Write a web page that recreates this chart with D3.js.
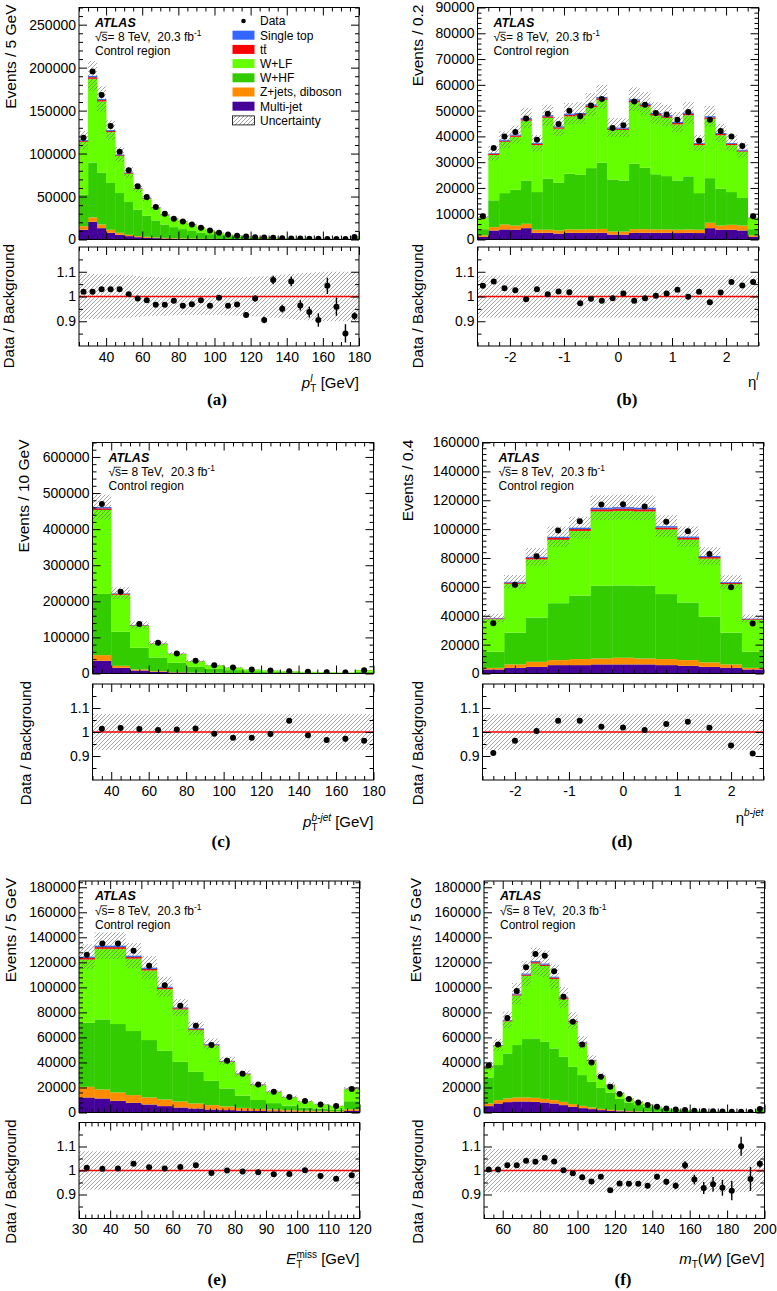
<!DOCTYPE html>
<html>
<head>
<meta charset="utf-8">
<script src="https://cdn.jsdelivr.net/npm/d3@7"></script>
<style>
  body { margin: 0; background: #fff; }
  svg { display: block; }
  text { font-family: "Liberation Sans", Arial, Helvetica, sans-serif; fill: #000; }
</style>
</head>
<body>
<svg id="chart" width="777" height="1291"></svg>
<script>
// stack order bottom -> top
const seriesKeys = ['multi', 'zjets', 'whf', 'wlf', 'ttbar', 'stop'];
const seriesColors = {
  multi: '#440099', zjets: '#ff8c00', whf: '#33cc00',
  wlf: '#66ff00', ttbar: '#ff0000', stop: '#3366ff',
};

// (a) lepton pT, 5 GeV bins from 25
const aData = [118400, 195500, 168200, 132000, 102000, 80600, 61900, 49500, 37800, 30000, 24100, 21000, 17500, 13600, 10500, 7800, 5800, 4300, 3500, 2700, 2300, 1900, 1600, 1300, 1100, 900, 800, 700, 600, 500, 3000];
const aMulti = [11300, 20600, 13200, 7800, 5500, 3900, 2700, 1900, 1600, 1200, 900, 700, 600, 500, 400, 300, 250, 200, 150, 120, 100, 80, 70, 60, 50, 40, 35, 30, 25, 20, 100];
const aZjets = [4200, 5100, 4300, 3500, 2300, 1600, 1200, 1200, 700, 700, 600, 500, 400, 300, 300, 250, 200, 150, 150, 130, 100, 80, 70, 60, 50, 40, 35, 30, 25, 25, 100];
const aWhf = [36700, 63900, 60400, 54500, 46300, 38100, 30800, 24500, 19900, 15600, 12900, 10900, 9100, 7000, 5500, 4550, 3450, 2750, 2000, 1650, 1300, 1040, 860, 680, 550, 470, 380, 320, 270, 225, 1700];
const aWlf = [61500, 97400, 82700, 59200, 43000, 32900, 24200, 19800, 14900, 11600, 9300, 8800, 7200, 5600, 4400, 2700, 2000, 1300, 1400, 750, 760, 760, 520, 480, 530, 380, 340, 310, 300, 310, 1340];
const aTtbar = [1100, 1900, 1600, 1300, 1000, 800, 600, 500, 400, 300, 250, 210, 180, 140, 110, 80, 60, 45, 40, 30, 25, 20, 16, 13, 12, 10, 8, 7, 6, 6, 35];
const aStop = [900, 1500, 1300, 1000, 800, 600, 480, 390, 300, 240, 190, 170, 140, 110, 90, 65, 50, 36, 30, 22, 18, 16, 13, 11, 10, 8, 6, 6, 5, 5, 28];
const aRatio = [1.019, 1.019, 1.029, 1.029, 1.029, 1.009, 0.992, 0.985, 0.967, 0.967, 0.983, 0.963, 0.969, 0.985, 0.963, 0.995, 0.963, 0.968, 0.925, 0.992, 0.905, 1.067, 0.951, 1.061, 0.964, 0.937, 0.905, 1.043, 0.959, 0.851, 0.921];
const aRatioErr = [0.003, 0.003, 0.003, 0.003, 0.003, 0.003, 0.004, 0.004, 0.005, 0.005, 0.005, 0.006, 0.006, 0.007, 0.008, 0.008, 0.009, 0.01, 0.011, 0.012, 0.013, 0.017, 0.016, 0.02, 0.021, 0.022, 0.027, 0.033, 0.037, 0.037, 0.015];
const aUnc = [0.092, 0.091, 0.09, 0.089, 0.088, 0.086, 0.083, 0.08, 0.078, 0.077, 0.076, 0.075, 0.075, 0.075, 0.075, 0.075, 0.076, 0.077, 0.078, 0.08, 0.082, 0.085, 0.088, 0.091, 0.094, 0.096, 0.098, 0.1, 0.1, 0.1, 0.1];

// (b) lepton eta, 0.2 bins from -2.6
const bData = [9000, 35500, 40000, 41700, 46900, 38700, 48800, 44800, 49900, 47800, 52000, 54500, 43300, 44300, 53500, 52300, 49100, 48500, 46500, 49500, 38300, 46500, 42100, 40000, 36300, 9000];
const bMulti = [1000, 3500, 3900, 3800, 4400, 2600, 2600, 2300, 2600, 2600, 2600, 2600, 1900, 1900, 2600, 2600, 2600, 2600, 2500, 2600, 2500, 4400, 3800, 3800, 3500, 1000];
const bZjets = [600, 1300, 1900, 1600, 1700, 1200, 1200, 1200, 1300, 1300, 1400, 1500, 1200, 1200, 1400, 1400, 1300, 1300, 1300, 1300, 1300, 2100, 1600, 1900, 1900, 600];
const bWhf = [2400, 10400, 12200, 13900, 16800, 14600, 19800, 18500, 21600, 21200, 23700, 25700, 20200, 19800, 25400, 23800, 21400, 20700, 19100, 20600, 14200, 17300, 14300, 12700, 10700, 2400];
const bWlf = [4320, 17600, 19900, 20550, 23230, 18210, 23610, 21000, 22290, 23010, 23620, 24360, 19200, 19600, 23880, 23820, 22790, 22610, 21760, 23690, 18620, 23010, 20750, 18220, 17990, 4320];
const bTtbar = [100, 400, 450, 480, 550, 450, 560, 510, 570, 560, 610, 640, 510, 510, 630, 610, 570, 560, 530, 570, 440, 560, 480, 440, 400, 100];
const bStop = [80, 300, 350, 370, 420, 340, 430, 390, 440, 430, 470, 500, 390, 390, 490, 470, 440, 430, 410, 440, 340, 430, 370, 340, 310, 80];
const bRatio = [1.043, 1.061, 1.033, 1.025, 0.989, 1.029, 1.009, 1.02, 1.017, 0.973, 0.991, 0.983, 0.993, 1.012, 0.983, 0.993, 1.003, 1.012, 1.027, 0.999, 1.019, 0.977, 1.016, 1.059, 1.044, 1.059];
const bRatioErr = [0.006, 0.004, 0.004, 0.004, 0.004, 0.004, 0.004, 0.004, 0.004, 0.004, 0.004, 0.004, 0.004, 0.004, 0.004, 0.004, 0.004, 0.004, 0.004, 0.004, 0.004, 0.004, 0.004, 0.004, 0.004, 0.006];
const bUnc = [0.085, 0.085, 0.085, 0.085, 0.085, 0.085, 0.085, 0.085, 0.085, 0.085, 0.085, 0.085, 0.085, 0.085, 0.085, 0.085, 0.085, 0.085, 0.085, 0.085, 0.085, 0.085, 0.085, 0.085, 0.085, 0.085];

// (c) b-jet pT, 10 GeV bins from 30
const cData = [469400, 226800, 137000, 85200, 55600, 35200, 23100, 16700, 11100, 8300, 6500, 4600, 3700, 2800, 9300];
const cMulti = [35200, 15700, 8300, 4600, 2800, 1900, 1200, 800, 550, 400, 300, 200, 150, 120, 300];
const cZjets = [15700, 5600, 2800, 1900, 900, 600, 500, 400, 250, 200, 150, 150, 100, 80, 300];
const cWhf = [169500, 94400, 60200, 37900, 25900, 16000, 11300, 8100, 5700, 4000, 3250, 2450, 1650, 1400, 4400];
const cWlf = [232700, 102600, 60700, 37450, 24420, 15580, 9790, 7400, 4600, 3655, 2390, 1820, 1835, 1248, 4435];
const cTtbar = [4500, 2200, 1300, 800, 550, 350, 230, 170, 110, 80, 60, 45, 35, 30, 90];
const cStop = [3500, 1700, 1000, 650, 430, 270, 180, 130, 90, 65, 50, 35, 30, 22, 75];
const cRatio = [1.014, 1.017, 1.013, 1.008, 1.01, 1.015, 0.993, 0.976, 0.976, 0.992, 1.047, 0.986, 0.967, 0.972, 0.964];
const cRatioErr = [0.002, 0.002, 0.003, 0.003, 0.004, 0.004, 0.005, 0.005, 0.006, 0.007, 0.008, 0.009, 0.012, 0.012, 0.007];
const cUnc = [0.075, 0.075, 0.075, 0.075, 0.075, 0.075, 0.075, 0.075, 0.075, 0.075, 0.075, 0.075, 0.075, 0.075, 0.075];

// (d) b-jet eta, 0.4 bins from -2.6
const dData = [34800, 61500, 81200, 99000, 105500, 117100, 117300, 115700, 105100, 98600, 82800, 59800, 34600];
const dMulti = [2800, 3900, 4600, 5800, 5800, 6300, 6300, 6300, 5800, 5300, 4600, 3900, 2800];
const dZjets = [1100, 2400, 3500, 3500, 4200, 4100, 4600, 4100, 4200, 4000, 3100, 2400, 1100];
const dWhf = [11200, 22000, 30600, 39400, 44000, 50400, 50100, 50400, 45000, 39900, 31700, 22000, 11200];
const dWlf = [22550, 33830, 40320, 43920, 44790, 51470, 51660, 51470, 44750, 43520, 40210, 33610, 22060];
const dTtbar = [500, 800, 1050, 1230, 1300, 1500, 1500, 1500, 1330, 1230, 1060, 820, 500];
const dStop = [350, 570, 730, 850, 910, 1030, 1040, 1030, 920, 850, 730, 570, 340];
const dRatio = [0.912, 0.964, 1.004, 1.047, 1.047, 1.022, 1.019, 1.008, 1.033, 1.043, 1.018, 0.944, 0.91];
const dRatioErr = [0.004, 0.003, 0.003, 0.003, 0.003, 0.003, 0.003, 0.003, 0.003, 0.003, 0.003, 0.003, 0.004];
const dUnc = [0.075, 0.075, 0.075, 0.075, 0.075, 0.075, 0.075, 0.075, 0.075, 0.075, 0.075, 0.075, 0.075];

// (e) missing ET, 5 GeV bins from 30
const eData = [126100, 135000, 135000, 129300, 117300, 101600, 85300, 69300, 53900, 41300, 30900, 22400, 16500, 12300, 9100, 6400, 5100, 18700];
const eMulti = [12000, 11200, 9300, 7700, 6400, 5100, 4000, 3200, 2400, 1900, 1500, 1200, 1000, 800, 600, 500, 400, 1200];
const eZjets = [8500, 7200, 6700, 6200, 5600, 5300, 4800, 4000, 3500, 2900, 2200, 1700, 1400, 1000, 800, 600, 500, 1300];
const eWhf = [51200, 56000, 54700, 51200, 45900, 38900, 31700, 25300, 19400, 14400, 9800, 7100, 5100, 3700, 2600, 1900, 1400, 6500];
const eWlf = [50500, 56400, 60100, 57900, 55650, 49250, 41900, 33370, 28330, 21300, 17080, 12040, 8860, 6750, 4920, 3465, 2895, 9710];
const eTtbar = [1300, 1400, 1400, 1300, 1200, 1100, 900, 750, 600, 450, 350, 260, 190, 140, 100, 75, 60, 220];
const eStop = [1000, 1100, 1100, 1000, 950, 850, 700, 580, 470, 350, 270, 200, 150, 110, 80, 60, 45, 170];
const eRatio = [1.011, 1.007, 1.008, 1.028, 1.014, 1.008, 1.015, 1.022, 0.99, 1.0, 0.996, 0.993, 0.984, 0.985, 1.001, 0.977, 0.966, 0.98];
const eRatioErr = [0.003, 0.003, 0.003, 0.003, 0.003, 0.003, 0.003, 0.003, 0.003, 0.003, 0.003, 0.004, 0.004, 0.005, 0.005, 0.006, 0.006, 0.004];
const eUnc = [0.08, 0.08, 0.08, 0.08, 0.08, 0.08, 0.08, 0.08, 0.08, 0.08, 0.08, 0.08, 0.08, 0.08, 0.08, 0.08, 0.08, 0.08];

// (f) transverse W mass, 5 GeV bins from 50
const fData = [37600, 54400, 75500, 97100, 116000, 126700, 125300, 112800, 92500, 72500, 54400, 40000, 28500, 20500, 14700, 10700, 8000, 5900, 4500, 3200, 2400, 1900, 1400, 1100, 900, 700, 600, 500, 450, 2700];
const fMulti = [5100, 7200, 8300, 8800, 8800, 8500, 8000, 7200, 5900, 4500, 3500, 2700, 1900, 1300, 1000, 800, 600, 450, 350, 280, 220, 170, 130, 100, 80, 60, 50, 40, 35, 200];
const fZjets = [2100, 2700, 2900, 3200, 3200, 3200, 2900, 2700, 2600, 2200, 1800, 1300, 1000, 800, 600, 400, 300, 250, 200, 150, 120, 100, 80, 70, 60, 50, 40, 30, 25, 150];
const fWhf = [20800, 28000, 36000, 41900, 46700, 47500, 45600, 41300, 36000, 29800, 24600, 20500, 16800, 13900, 9400, 6800, 5100, 3800, 2850, 2070, 1560, 1130, 890, 730, 560, 440, 390, 280, 290, 1450];
const fWlf = [8850, 15270, 25630, 39590, 50520, 59850, 60570, 55540, 46010, 35790, 25160, 16790, 9090, 5910, 4230, 3100, 2350, 1690, 1117, 840, 654, 466, 323, 278, 233, 186, 158, 91, 111, 752];
const fTtbar = [300, 450, 650, 850, 1000, 1100, 1100, 1000, 850, 700, 550, 420, 300, 230, 160, 120, 90, 65, 50, 36, 28, 20, 16, 13, 10, 8, 7, 5, 5, 28];
const fStop = [250, 380, 520, 660, 780, 850, 830, 760, 640, 510, 390, 290, 210, 160, 110, 80, 60, 45, 33, 24, 18, 14, 11, 9, 7, 6, 5, 4, 4, 20];
const fRatio = [1.004, 1.004, 1.022, 1.022, 1.041, 1.036, 1.053, 1.038, 1.001, 0.989, 0.972, 0.954, 0.974, 0.918, 0.946, 0.945, 0.945, 0.936, 0.974, 0.953, 0.936, 1.022, 0.962, 0.927, 0.943, 0.928, 0.916, 1.101, 0.965, 1.028];
const fRatioErr = [0.003, 0.003, 0.003, 0.003, 0.003, 0.003, 0.003, 0.003, 0.003, 0.004, 0.004, 0.005, 0.005, 0.006, 0.007, 0.008, 0.009, 0.01, 0.012, 0.012, 0.014, 0.017, 0.02, 0.025, 0.03, 0.033, 0.04, 0.04, 0.05, 0.015];
const fUnc = [0.09, 0.09, 0.09, 0.09, 0.09, 0.09, 0.09, 0.09, 0.09, 0.09, 0.09, 0.09, 0.09, 0.09, 0.09, 0.09, 0.09, 0.09, 0.09, 0.09, 0.09, 0.09, 0.09, 0.09, 0.09, 0.09, 0.09, 0.09, 0.09, 0.09];

const legendRows = ['Data', 'Single top', 'tt', 'W+LF', 'W+HF', 'Z+jets, diboson', 'Multi-jet', 'Uncertainty'];
const legendKeys = ['data', 'stop', 'ttbar', 'wlf', 'whf', 'zjets', 'multi', 'unc'];

// panel layout (pixel boxes and axis settings)
const panels = [
  {
    id: 'a', xDomain: [25, 180], binWidth: 5, yMax: 270000, yStep: 50000, yMinor: 10000,
    xMajor: [40, 180, 20], xMinor: [25, 180, 5], yTitle: 'Events / 5 GeV',
    series: [aMulti, aZjets, aWhf, aWlf, aTtbar, aStop], data: aData,
    ratio: aRatio, ratioErr: aRatioErr, unc: aUnc,
    box: {left: 79, right: 359, top: 7.5, bottom: 239.5, rTop: 247, rBottom: 346},
    yTitleX: 16, rTitleX: 14, xTitleY: 387.5, labelX: 217, labelY: 405, legend: true,
    xTitle: [{t: 'p', it: 1}, {t: 'T', sz: 10, dy: 4}, {t: 'l', it: 1, sz: 10, dx: -6, dy: -10}, {t: ' [GeV]', dx: 4, dy: 6}],
  },
  {
    id: 'b', xDomain: [-2.6, 2.6], binWidth: 0.2, yMax: 90000, yStep: 10000, yMinor: 2000,
    xMajor: [-2, 2, 1], xMinor: [-2.6, 2.6, 0.2], yTitle: 'Events / 0.2',
    series: [bMulti, bZjets, bWhf, bWlf, bTtbar, bStop], data: bData,
    ratio: bRatio, ratioErr: bRatioErr, unc: bUnc,
    box: {left: 477.5, right: 758.5, top: 7.5, bottom: 239.5, rTop: 247, rBottom: 346},
    yTitleX: 423, rTitleX: 423, xTitleY: 386.5, labelX: 627, labelY: 405,
    xTitle: [{t: '\u03b7'}, {t: 'l', it: 1, sz: 10, dy: -7}],
  },
  {
    id: 'c', xDomain: [30, 180], binWidth: 10, yMax: 640000, yStep: 100000, yMinor: 20000,
    xMajor: [40, 180, 20], xMinor: [30, 180, 5], yTitle: 'Events / 10 GeV',
    series: [cMulti, cZjets, cWhf, cWlf, cTtbar, cStop], data: cData,
    ratio: cRatio, ratioErr: cRatioErr, unc: cUnc,
    box: {left: 92.5, right: 373.5, top: 442.5, bottom: 673.5, rTop: 684, rBottom: 780},
    yTitleX: 29, rTitleX: 31, xTitleY: 826.5, labelX: 221, labelY: 847,
    xTitle: [{t: 'p', it: 1}, {t: 'T', sz: 10, dy: 4}, {t: 'b-jet', it: 1, sz: 10, dx: -6, dy: -10}, {t: ' [GeV]', dy: 6}],
  },
  {
    id: 'd', xDomain: [-2.6, 2.6], binWidth: 0.4, yMax: 160000, yStep: 20000, yMinor: 4000,
    xMajor: [-2, 2, 1], xMinor: [-2.6, 2.6, 0.2], yTitle: 'Events / 0.4',
    series: [dMulti, dZjets, dWhf, dWlf, dTtbar, dStop], data: dData,
    ratio: dRatio, ratioErr: dRatioErr, unc: dUnc,
    box: {left: 482.5, right: 763.5, top: 442.5, bottom: 673.5, rTop: 684, rBottom: 780},
    yTitleX: 413, rTitleX: 423, xTitleY: 823, labelX: 622, labelY: 847,
    xTitle: [{t: '\u03b7'}, {t: 'b-jet', it: 1, sz: 10, dy: -7}],
  },
  {
    id: 'e', xDomain: [30, 120], binWidth: 5, yMax: 185000, yStep: 20000, yMinor: 4000,
    xMajor: [30, 120, 10], xMinor: [30, 120, 2], yTitle: 'Events / 5 GeV',
    series: [eMulti, eZjets, eWhf, eWlf, eTtbar, eStop], data: eData,
    ratio: eRatio, ratioErr: eRatioErr, unc: eUnc,
    box: {left: 79, right: 359.5, top: 881, bottom: 1112.5, rTop: 1122.5, rBottom: 1218.5},
    yTitleX: 16, rTitleX: 16, xTitleY: 1264, labelX: 217, labelY: 1285,
    xTitle: [{t: 'E', it: 1}, {t: 'T', sz: 10, dy: 4}, {t: 'miss', sz: 10, dx: -6, dy: -10}, {t: ' [GeV]', dy: 6}],
  },
  {
    id: 'f', xDomain: [50, 200], binWidth: 5, yMax: 185000, yStep: 20000, yMinor: 4000,
    xMajor: [60, 200, 20], xMinor: [50, 200, 5], yTitle: 'Events / 5 GeV',
    series: [fMulti, fZjets, fWhf, fWlf, fTtbar, fStop], data: fData,
    ratio: fRatio, ratioErr: fRatioErr, unc: fUnc,
    box: {left: 484, right: 764.5, top: 881, bottom: 1112.5, rTop: 1122.5, rBottom: 1218.5},
    yTitleX: 421, rTitleX: 423, xTitleY: 1264, labelX: 623, labelY: 1285,
    xTitle: [{t: 'm', it: 1}, {t: 'T', sz: 10, dy: 4}, {t: '(', dy: -4}, {t: 'W', it: 1}, {t: ') [GeV]'}],
  },
];

const svg = d3.select('#chart');
svg.append('rect').attr('width', 777).attr('height', 1291).attr('fill', '#fff');

const defs = svg.append('defs');
defs.append('pattern')
  .attr('id', 'hatch')
  .attr('patternUnits', 'userSpaceOnUse')
  .attr('width', 4).attr('height', 4)
  .append('path')
  .attr('d', 'M-1,1 l2,-2 M0,4 l4,-4 M3,5 l2,-2')
  .attr('stroke', '#6a6a6a')
  .attr('stroke-width', 0.6);

function stepRange(lo, hi, step) {
  const n = Math.round((hi - lo) / step);
  return d3.range(n + 1).map(i => +(lo + i * step).toFixed(4));
}

// draw a bar over one character of a text element (for sqrt{s} and t-bar)
function overbar(g, textSel, charIndex, fromIndex) {
  const node = textSel.node();
  const c = node.getExtentOfChar(charIndex);
  const x0 = fromIndex === undefined ? c.x + 0.5 : node.getExtentOfChar(fromIndex).x + node.getExtentOfChar(fromIndex).width - 1;
  const yTop = c.y + c.height * 0.16;
  g.append('line')
    .attr('x1', x0).attr('x2', c.x + c.width - 0.3)
    .attr('y1', yTop).attr('y2', yTop)
    .attr('stroke', '#000').attr('stroke-width', 0.8);
}

function tickAxis(g, maker, scale, translate, values, size, fmt, pad) {
  const axis = maker(scale)
    .tickValues(values)
    .tickSize(-size)
    .tickPadding(pad || 3)
    .tickFormat(fmt || '');
  const a = g.append('g').attr('transform', translate).call(axis);
  a.select('.domain').remove();
  a.selectAll('line').attr('stroke', '#000').attr('stroke-width', 1);
  a.selectAll('text')
    .style('font-size', '14px')
    .style('font-family', '"Liberation Sans", Arial, sans-serif')
    .attr('fill', '#000');
  return a;
}

function frameTicks(g, x, y, box, top, bottom, xMaj, xMin, yMaj, yMin, yFmt, xFmt, size) {
  const L = box.left, R = box.right;
  // y axis: left with labels, right mirrored
  tickAxis(g, d3.axisLeft, y, `translate(${L},0)`, yMaj, size, yFmt, 3);
  tickAxis(g, d3.axisLeft, y, `translate(${L},0)`, yMin, size / 2);
  tickAxis(g, d3.axisRight, y, `translate(${R},0)`, yMaj, size);
  tickAxis(g, d3.axisRight, y, `translate(${R},0)`, yMin, size / 2);
  // x axis: bottom (labels only in ratio pad), top mirrored
  tickAxis(g, d3.axisBottom, x, `translate(0,${bottom})`, xMaj, size, xFmt, 6);
  tickAxis(g, d3.axisBottom, x, `translate(0,${bottom})`, xMin, size / 2);
  tickAxis(g, d3.axisTop, x, `translate(0,${top})`, xMaj, size);
  tickAxis(g, d3.axisTop, x, `translate(0,${top})`, xMin, size / 2);
  g.append('rect')
    .attr('x', L).attr('y', top)
    .attr('width', R - L).attr('height', bottom - top)
    .attr('fill', 'none').attr('stroke', '#000').attr('stroke-width', 1);
}

function drawPanel(p) {
  const box = p.box;
  const g = svg.append('g').attr('class', `panel-${p.id}`);
  const n = p.data.length;
  const x = d3.scaleLinear().domain(p.xDomain).range([box.left, box.right]);
  const y = d3.scaleLinear().domain([0, p.yMax]).range([box.bottom, box.top]);
  const yr = d3.scaleLinear().domain([0.8, 1.2]).range([box.rBottom, box.rTop]);

  const rows = d3.range(n).map((i) => {
    const r = {lo: p.xDomain[0] + i * p.binWidth};
    r.hi = r.lo + p.binWidth;
    r.mid = r.lo + p.binWidth / 2;
    seriesKeys.forEach((k, s) => { r[k] = p.series[s][i]; });
    return r;
  });
  const layers = d3.stack().keys(seriesKeys)(rows);
  const totals = layers[layers.length - 1].map(d => d[1]);

  const clipId = `clip-${p.id}`;
  defs.append('clipPath').attr('id', clipId)
    .append('rect')
    .attr('x', box.left).attr('y', box.top)
    .attr('width', box.right - box.left).attr('height', box.bottom - box.top);

  const plot = g.append('g').attr('clip-path', `url(#${clipId})`);

  // stacked histogram
  plot.selectAll('g.layer')
    .data(layers)
    .enter()
    .append('g')
    .attr('class', 'layer')
    .attr('fill', d => seriesColors[d.key])
    .selectAll('rect')
    .data(d => d)
    .enter()
    .append('rect')
    .attr('x', d => x(d.data.lo))
    .attr('width', d => x(d.data.hi) - x(d.data.lo) + 0.3)
    .attr('y', d => y(d[1]))
    .attr('height', d => Math.max(0, y(d[0]) - y(d[1])));

  // uncertainty band on the total
  plot.selectAll('rect.unc')
    .data(rows)
    .enter()
    .append('rect')
    .attr('class', 'unc')
    .attr('x', d => x(d.lo))
    .attr('width', d => x(d.hi) - x(d.lo))
    .attr('y', (d, i) => y(totals[i] * (1 + p.unc[i])))
    .attr('height', (d, i) => y(totals[i] * (1 - p.unc[i])) - y(totals[i] * (1 + p.unc[i])))
    .attr('fill', 'url(#hatch)');

  // data points
  plot.selectAll('circle.data')
    .data(rows)
    .enter()
    .append('circle')
    .attr('class', 'data')
    .attr('cx', d => x(d.mid))
    .attr('cy', (d, i) => y(p.data[i]))
    .attr('r', 3)
    .attr('fill', '#000');

  const yMaj = stepRange(0, Math.floor(p.yMax / p.yStep) * p.yStep, p.yStep);
  const yMin = stepRange(0, Math.floor(p.yMax / p.yMinor) * p.yMinor, p.yMinor).filter(v => yMaj.indexOf(v) < 0);
  const xMaj = stepRange(p.xMajor[0], p.xMajor[1], p.xMajor[2]);
  const xMin = stepRange(p.xMinor[0], p.xMinor[1], p.xMinor[2]).filter(v => !xMaj.some(m => Math.abs(m - v) < 1e-6));

  frameTicks(g, x, y, box, box.top, box.bottom, xMaj, xMin, yMaj, yMin, d3.format('d'), null, 8);

  // ratio pad
  const rplot = g.append('g');
  rplot.selectAll('rect.runc')
    .data(rows)
    .enter()
    .append('rect')
    .attr('class', 'runc')
    .attr('x', d => x(d.lo))
    .attr('width', d => x(d.hi) - x(d.lo))
    .attr('y', (d, i) => yr(1 + p.unc[i]))
    .attr('height', (d, i) => yr(1 - p.unc[i]) - yr(1 + p.unc[i]))
    .attr('fill', 'url(#hatch)');
  rplot.append('line')
    .attr('x1', box.left).attr('x2', box.right)
    .attr('y1', yr(1)).attr('y2', yr(1))
    .attr('stroke', '#ff0000').attr('stroke-width', 1.5);
  rplot.selectAll('line.err')
    .data(rows)
    .enter()
    .append('line')
    .attr('class', 'err')
    .attr('x1', d => x(d.mid)).attr('x2', d => x(d.mid))
    .attr('y1', (d, i) => yr(p.ratio[i] - p.ratioErr[i]))
    .attr('y2', (d, i) => yr(p.ratio[i] + p.ratioErr[i]))
    .attr('stroke', '#000').attr('stroke-width', 1.4);
  rplot.selectAll('circle.rdata')
    .data(rows)
    .enter()
    .append('circle')
    .attr('class', 'rdata')
    .attr('cx', d => x(d.mid))
    .attr('cy', (d, i) => yr(p.ratio[i]))
    .attr('r', 3)
    .attr('fill', '#000');

  frameTicks(g, x, yr, box, box.rTop, box.rBottom, xMaj, xMin,
    [0.9, 1, 1.1], [0.85, 0.95, 1.05, 1.15], d => String(+d.toFixed(2)), d => String(d), 8);

  // axis titles
  g.append('text')
    .attr('transform', `translate(${p.yTitleX},${box.top - 3}) rotate(-90)`)
    .attr('text-anchor', 'end')
    .style('font-size', '15.5px')
    .text(p.yTitle);
  g.append('text')
    .attr('transform', `translate(${p.rTitleX},${box.rTop - 3}) rotate(-90)`)
    .attr('text-anchor', 'end')
    .style('font-size', '15px')
    .text('Data / Background');

  const xt = g.append('text')
    .attr('x', box.right).attr('y', p.xTitleY)
    .attr('text-anchor', 'end')
    .style('font-size', '15px');
  p.xTitle.forEach((part) => {
    const s = xt.append('tspan').text(part.t);
    if (part.it) s.style('font-style', 'italic');
    if (part.sz) s.style('font-size', `${part.sz}px`);
    if (part.dx) s.attr('dx', part.dx);
    if (part.dy) s.attr('dy', part.dy);
  });

  g.append('text')
    .attr('x', p.labelX).attr('y', p.labelY)
    .attr('text-anchor', 'middle')
    .style('font-family', '"Liberation Serif", "Times New Roman", serif')
    .style('font-weight', 'bold')
    .style('font-size', '17px')
    .text(`(${p.id})`);

  // ATLAS label
  const lx = box.left + 16;
  g.append('text')
    .attr('x', lx).attr('y', box.top + 19)
    .style('font-size', '12.5px')
    .style('font-weight', 'bold')
    .style('font-style', 'italic')
    .text('ATLAS');
  const cm = g.append('text')
    .attr('x', lx).attr('y', box.top + 33.5)
    .style('font-size', '12px')
    .style('white-space', 'pre');
  cm.append('tspan').text('\u221as= 8 TeV,  20.3 fb');
  cm.append('tspan').attr('dy', -5).style('font-size', '8.5px').text('-1');
  overbar(g, cm, 1, 0);
  g.append('text')
    .attr('x', lx).attr('y', box.top + 47.5)
    .style('font-size', '12px')
    .text('Control region');

  if (p.legend) drawLegend(g, box);
}

function drawLegend(g, box) {
  const bx = box.left + 153.5;
  const tx = box.left + 181;
  legendKeys.forEach((key, i) => {
    const cy = 21 + i * 14.2;
    if (key === 'data') {
      g.append('circle').attr('cx', bx + 11).attr('cy', cy).attr('r', 2.3).attr('fill', '#000');
    } else if (key === 'unc') {
      g.append('rect')
        .attr('x', bx).attr('y', cy - 4.5).attr('width', 22).attr('height', 9)
        .attr('fill', 'url(#hatch)').attr('stroke', '#000').attr('stroke-width', 0.8);
    } else {
      g.append('rect')
        .attr('x', bx).attr('y', cy - 4.5).attr('width', 22).attr('height', 9)
        .attr('fill', seriesColors[key]);
    }
    const t = g.append('text')
      .attr('x', tx).attr('y', cy + 4.3)
      .style('font-size', '12px')
      .text(legendRows[i]);
    if (key === 'ttbar') overbar(g, t, 1);
  });
}

panels.forEach(drawPanel);
</script>
</body>
</html>
